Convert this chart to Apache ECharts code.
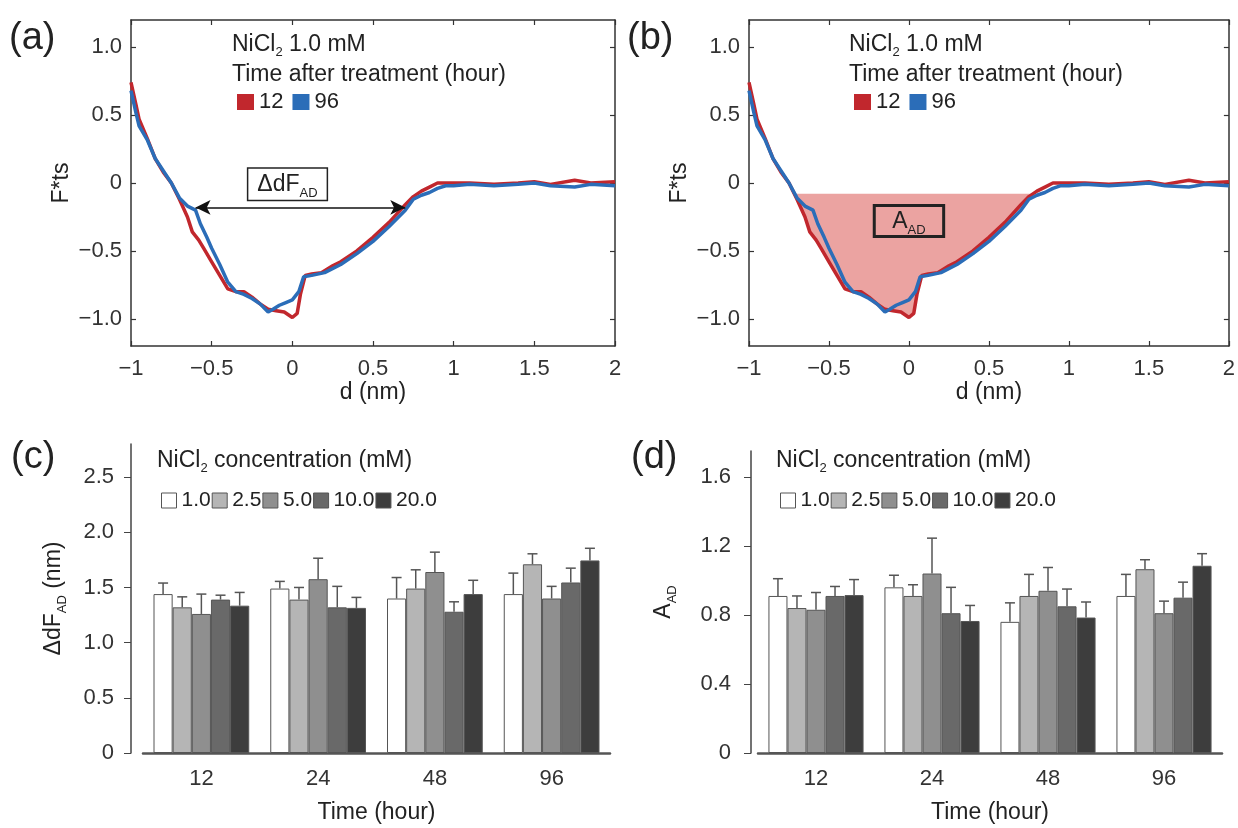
<!DOCTYPE html>
<html>
<head>
<meta charset="utf-8">
<script src="https://cdn.jsdelivr.net/npm/echarts@6/dist/echarts.min.js"></script>
<style>
html, body { margin: 0; padding: 0; background: #fff; }
#main { width: 1238px; height: 828px; }
</style>
</head>
<body>
<div id="main"></div>
<script>
// (a)(b) 力曲线: d (nm) 与 F*ts
var dist12 = [-1.00, -0.97, -0.95, -0.90, -0.85, -0.80, -0.75, -0.70, -0.65, -0.62, -0.58, -0.55, -0.50, -0.45, -0.40, -0.35, -0.30, -0.25, -0.20, -0.15, -0.10, -0.05, 0.00, 0.03, 0.05, 0.08, 0.12, 0.18, 0.25, 0.30, 0.40, 0.50, 0.60, 0.70, 0.75, 0.80, 0.85, 0.90, 1.00, 1.10, 1.25, 1.40, 1.50, 1.60, 1.75, 1.85, 2.00];
var force12 = [0.74, 0.58, 0.47, 0.33, 0.18, 0.08, 0.00, -0.12, -0.25, -0.36, -0.42, -0.48, -0.58, -0.68, -0.78, -0.80, -0.80, -0.84, -0.89, -0.93, -0.94, -0.95, -0.99, -0.96, -0.82, -0.68, -0.67, -0.66, -0.61, -0.58, -0.50, -0.40, -0.29, -0.16, -0.10, -0.06, -0.03, 0.00, 0.00, 0.00, -0.01, 0.00, 0.01, -0.01, 0.02, 0.00, 0.01];
var dist96 = [-1.00, -0.97, -0.95, -0.90, -0.85, -0.80, -0.75, -0.70, -0.65, -0.60, -0.57, -0.53, -0.50, -0.45, -0.40, -0.35, -0.30, -0.25, -0.20, -0.15, -0.12, -0.08, -0.04, 0.00, 0.04, 0.07, 0.12, 0.20, 0.30, 0.40, 0.50, 0.60, 0.70, 0.75, 0.80, 0.85, 0.90, 0.95, 1.00, 1.10, 1.25, 1.40, 1.50, 1.60, 1.75, 1.85, 2.00];
var force96 = [0.68, 0.52, 0.42, 0.32, 0.18, 0.09, 0.00, -0.11, -0.17, -0.20, -0.30, -0.40, -0.48, -0.60, -0.73, -0.80, -0.82, -0.85, -0.89, -0.95, -0.93, -0.90, -0.88, -0.86, -0.80, -0.69, -0.68, -0.66, -0.60, -0.52, -0.43, -0.32, -0.20, -0.12, -0.09, -0.07, -0.04, -0.02, -0.02, -0.01, -0.02, -0.01, 0.00, -0.02, -0.03, -0.01, -0.02];

// (b) A_AD 阴影区域
var fillTop = -0.08;
var fillDist = [-0.72, -0.70, -0.65, -0.62, -0.58, -0.55, -0.50, -0.45, -0.40, -0.35, -0.30, -0.25, -0.20, -0.15, -0.10, -0.05, 0.00, 0.03, 0.05, 0.08, 0.12, 0.18, 0.25, 0.30, 0.40, 0.50, 0.60, 0.70, 0.77];
var fillForce = [-0.08, -0.12, -0.25, -0.36, -0.42, -0.48, -0.58, -0.68, -0.78, -0.80, -0.80, -0.84, -0.89, -0.93, -0.94, -0.95, -0.99, -0.96, -0.82, -0.68, -0.67, -0.66, -0.61, -0.58, -0.50, -0.40, -0.29, -0.16, -0.08];

// 标注位置
var arrowFrom = [-0.60, -0.18];
var arrowTo = [0.70, -0.18];
var dfBoxAt = [-0.03, -0.01];
var areaBoxAt = [0.00, -0.28];

var fTicks = [-1, -0.5, 0, 0.5, 1];

// (c)(d) 柱状图
var timeCats = ['12', '24', '48', '96'];
var concNames = ['1.0', '2.5', '5.0', '10.0', '20.0'];
var concColors = ['#ffffff', '#b5b5b5', '#8f8f8f', '#696969', '#3d3d3d'];

var dfMean1 = [1.44, 1.49, 1.40, 1.44];
var dfMean2 = [1.32, 1.39, 1.49, 1.71];
var dfMean5 = [1.26, 1.575, 1.64, 1.40];
var dfMean10 = [1.39, 1.32, 1.28, 1.545];
var dfMean20 = [1.335, 1.315, 1.44, 1.745];
var dfErr1 = [0.10, 0.065, 0.19, 0.19];
var dfErr2 = [0.095, 0.11, 0.17, 0.095];
var dfErr5 = [0.18, 0.19, 0.18, 0.11];
var dfErr10 = [0.04, 0.19, 0.09, 0.13];
var dfErr20 = [0.12, 0.095, 0.125, 0.11];

var aMean1 = [0.91, 0.96, 0.76, 0.91];
var aMean2 = [0.84, 0.91, 0.91, 1.065];
var aMean5 = [0.83, 1.04, 0.94, 0.81];
var aMean10 = [0.91, 0.81, 0.85, 0.90];
var aMean20 = [0.915, 0.765, 0.785, 1.085];
var aErr1 = [0.10, 0.07, 0.11, 0.125];
var aErr2 = [0.07, 0.065, 0.125, 0.055];
var aErr5 = [0.10, 0.205, 0.135, 0.07];
var aErr10 = [0.055, 0.15, 0.10, 0.09];
var aErr20 = [0.09, 0.09, 0.09, 0.07];

var dfTicks = [0, 0.5, 1, 1.5, 2, 2.5];
var aTicks = [0, 0.4, 0.8, 1.2, 1.6];

var dfMeans = [dfMean1, dfMean2, dfMean5, dfMean10, dfMean20];
var dfErrs = [dfErr1, dfErr2, dfErr5, dfErr10, dfErr20];
var aMeans = [aMean1, aMean2, aMean5, aMean10, aMean20];
var aErrs = [aErr1, aErr2, aErr5, aErr10, aErr20];

var FONT = 'Liberation Sans, Arial, sans-serif';
var RED = '#c1272d';
var BLUE = '#2b6db8';
var barCatGap = 0.18;

var main = document.getElementById('main');
var chart = echarts.init(main);

function pairs(xs, ys) {
    return xs.map(function (x, i) { return [x, ys[i]]; });
}
function fmtF(v) {
    if (v === 0) return '0';
    return (v < 0 ? '\u2212' : '') + Math.abs(v).toFixed(1);
}
function fmtD(v) {
    return (v < 0 ? '\u2212' : '') + Math.abs(v);
}
function fmtBar(v) {
    return v === 0 ? '0' : v.toFixed(1);
}

var subRich = {
    m: { fontSize: 23, fontFamily: FONT, color: '#222', lineHeight: 30 },
    s: { fontSize: 13, fontFamily: FONT, color: '#222', lineHeight: 14, verticalAlign: 'bottom' }
};

// 力曲线坐标轴
function dAxis(gi, pos, main) {
    return {
        type: 'value', gridIndex: gi, position: pos, min: -1, max: 2, interval: 0.5,
        name: main ? 'd (nm)' : '', nameLocation: 'middle', nameGap: 35,
        nameTextStyle: { fontSize: 23, fontFamily: FONT, color: '#222' },
        axisLine: { show: true, onZero: false, lineStyle: { color: '#333', width: 1.5 } },
        axisTick: { show: true, inside: true, length: 5, lineStyle: { color: '#333', width: 1.2 } },
        axisLabel: { show: main, margin: 12, fontSize: 22, fontFamily: FONT, color: '#333', formatter: fmtD },
        splitLine: { show: false }
    };
}
function fAxis(gi, pos, main) {
    return {
        type: 'value', gridIndex: gi, position: pos, min: -1.2, max: 1.2,
        name: main ? 'F*ts' : '', nameLocation: 'middle', nameGap: 58,
        nameTextStyle: { fontSize: 23, fontFamily: FONT, color: '#222' },
        axisLine: { show: true, onZero: false, lineStyle: { color: '#333', width: 1.5 } },
        axisTick: { show: true, inside: true, length: 5, customValues: fTicks, lineStyle: { color: '#333', width: 1.2 } },
        axisLabel: { show: main, margin: 9, fontSize: 22, fontFamily: FONT, color: '#333', customValues: fTicks, formatter: fmtF },
        splitLine: { show: false }
    };
}
function catAxis(gi) {
    return {
        type: 'category', gridIndex: gi, data: timeCats,
        name: 'Time (hour)', nameLocation: 'middle', nameGap: 48,
        nameTextStyle: { fontSize: 23, fontFamily: FONT, color: '#222' },
        axisLine: { show: true, lineStyle: { color: '#555', width: 2.5 } },
        axisTick: { show: false },
        axisLabel: { margin: 15, fontSize: 22, fontFamily: FONT, color: '#333' },
        splitLine: { show: false }
    };
}
function barYAxis(gi, max, ticks, name, gap, offset, margin) {
    return {
        type: 'value', gridIndex: gi, min: 0, max: max, offset: offset,
        name: name, nameLocation: 'middle', nameGap: gap,
        nameTextStyle: { fontSize: 23, fontFamily: FONT, color: '#222', rich: subRich },
        axisLine: { show: true, lineStyle: { color: '#444', width: 1.5 } },
        axisTick: { show: true, length: 7, customValues: ticks, lineStyle: { color: '#444' } },
        axisLabel: { margin: margin, fontSize: 22, fontFamily: FONT, color: '#333', customValues: ticks, formatter: fmtBar },
        splitLine: { show: false }
    };
}

// 误差线
function renderErr(params, api) {
    var cat = api.value(0), k = api.value(1), mean = api.value(2), err = api.value(3);
    var catW = api.size([1, 0])[0];
    var groupW = catW * (1 - barCatGap);
    var barW = groupW / concNames.length;
    var base = api.coord([cat, mean]);
    var x = base[0] - groupW / 2 + (k + 0.5) * barW;
    var top = api.coord([cat, mean + err])[1];
    var st = { stroke: '#555', lineWidth: 1.5 };
    return {
        type: 'group',
        children: [
            { type: 'line', shape: { x1: x, y1: base[1], x2: x, y2: top }, style: st },
            { type: 'line', shape: { x1: x - 5, y1: top, x2: x + 5, y2: top }, style: st }
        ]
    };
}
function errData(means, errs) {
    var out = [];
    means.forEach(function (m, k) {
        m.forEach(function (v, c) { out.push([c, k, v, errs[k][c]]); });
    });
    return out;
}

var series = [];
// (a)
series.push({
    type: 'line', name: '12', xAxisIndex: 0, yAxisIndex: 0, data: pairs(dist12, force12),
    symbol: 'none', lineStyle: { color: RED, width: 3.5 }, itemStyle: { color: RED }, z: 3,
    markLine: {
        silent: true, symbol: ['arrow', 'arrow'], symbolSize: [11, 15],
        lineStyle: { color: '#111', width: 1.5, type: 'solid' }, label: { show: false },
        data: [[{ coord: arrowFrom }, { coord: arrowTo }]]
    }
});
series.push({
    type: 'line', name: '96', xAxisIndex: 0, yAxisIndex: 0, data: pairs(dist96, force96),
    symbol: 'none', lineStyle: { color: BLUE, width: 3.5 }, itemStyle: { color: BLUE }, z: 4,
    markPoint: {
        silent: true, symbol: 'rect', symbolSize: 1, itemStyle: { color: 'rgba(0,0,0,0)' },
        label: {
            show: true, position: 'inside', formatter: '{m|\u0394dF}{s|AD}',
            backgroundColor: '#fff', borderColor: '#222', borderWidth: 1.5, padding: [1, 9, 0, 9], rich: subRich
        },
        data: [{ coord: dfBoxAt }]
    }
});
// (b)
series.push({
    type: 'line', name: 'fill', xAxisIndex: 2, yAxisIndex: 2, data: pairs(fillDist, fillForce),
    symbol: 'none', lineStyle: { width: 0 }, itemStyle: { color: '#eba3a1' },
    areaStyle: { origin: fillTop, color: '#eba3a1', opacity: 1 }, z: 1, silent: true
});
series.push({
    type: 'line', name: '12', xAxisIndex: 2, yAxisIndex: 2, data: pairs(dist12, force12),
    symbol: 'none', lineStyle: { color: RED, width: 3.5 }, itemStyle: { color: RED }, z: 3
});
series.push({
    type: 'line', name: '96', xAxisIndex: 2, yAxisIndex: 2, data: pairs(dist96, force96),
    symbol: 'none', lineStyle: { color: BLUE, width: 3.5 }, itemStyle: { color: BLUE }, z: 4,
    markPoint: {
        silent: true, symbol: 'rect', symbolSize: 1, itemStyle: { color: 'rgba(0,0,0,0)' },
        label: {
            show: true, position: 'inside', formatter: '{m|A}{s|AD}',
            backgroundColor: 'rgba(0,0,0,0)', borderColor: '#222', borderWidth: 1.5, padding: [1, 18, 0, 18], rich: subRich
        },
        data: [{ coord: areaBoxAt }]
    }
});
// (c)(d)
concNames.forEach(function (name, k) {
    series.push({
        type: 'bar', name: name, xAxisIndex: 4, yAxisIndex: 4, data: dfMeans[k],
        barGap: '0%', barCategoryGap: (barCatGap * 100) + '%',
        itemStyle: { color: concColors[k], borderColor: '#555', borderWidth: 1 }
    });
});
concNames.forEach(function (name, k) {
    series.push({
        type: 'bar', name: name, xAxisIndex: 5, yAxisIndex: 5, data: aMeans[k],
        barGap: '0%', barCategoryGap: (barCatGap * 100) + '%',
        itemStyle: { color: concColors[k], borderColor: '#555', borderWidth: 1 }
    });
});
series.push({
    type: 'custom', name: 'errC', xAxisIndex: 4, yAxisIndex: 4, renderItem: renderErr,
    data: errData(dfMeans, dfErrs), encode: { x: 0, y: 2 }, z: 5, silent: true
});
series.push({
    type: 'custom', name: 'errD', xAxisIndex: 5, yAxisIndex: 5, renderItem: renderErr,
    data: errData(aMeans, aErrs), encode: { x: 0, y: 2 }, z: 5, silent: true
});

function lineLegend(left) {
    return {
        left: left, top: 86, orient: 'horizontal', icon: 'rect', itemWidth: 17, itemHeight: 16, itemGap: 9,
        selectedMode: false,
        textStyle: { fontSize: 22, fontFamily: FONT, color: '#222' },
        data: [
            { name: '12', itemStyle: { color: RED, borderWidth: 0 } },
            { name: '96', itemStyle: { color: BLUE, borderWidth: 0 } }
        ]
    };
}
function barLegend(left) {
    return {
        left: left, top: 485, orient: 'horizontal', icon: 'rect', itemWidth: 15, itemHeight: 15, itemGap: 1,
        selectedMode: false,
        textStyle: { fontSize: 21, fontFamily: FONT, color: '#222' },
        data: concNames.map(function (n, k) {
            return { name: n, itemStyle: { color: concColors[k], borderColor: '#555', borderWidth: 1 } };
        })
    };
}

var nicl = {
    n: { fontSize: 23, fontFamily: FONT, fill: '#222', lineHeight: 28 },
    s: { fontSize: 13, fontFamily: FONT, fill: '#222', lineHeight: 14, verticalAlign: 'bottom' }
};
function txt(left, top, text, size) {
    return { type: 'text', left: left, top: top, style: { text: text, fontSize: size, fontFamily: FONT, fill: '#222' } };
}
function richTxt(left, top, text) {
    return { type: 'text', left: left, top: top, style: { text: text, rich: nicl, fontSize: 23, fontFamily: FONT, fill: '#222' } };
}

var option = {
    animation: false,
    backgroundColor: '#fff',
    grid: [
        { left: 131, top: 20, width: 484, height: 326 },
        { left: 749, top: 20, width: 480, height: 326 },
        { left: 143, top: 444, width: 467, height: 309 },
        { left: 758, top: 451, width: 464, height: 302 }
    ],
    xAxis: [
        dAxis(0, 'bottom', true), dAxis(0, 'top', false),
        dAxis(1, 'bottom', true), dAxis(1, 'top', false),
        catAxis(2), catAxis(3)
    ],
    yAxis: [
        fAxis(0, 'left', true), fAxis(0, 'right', false),
        fAxis(1, 'left', true), fAxis(1, 'right', false),
        barYAxis(2, 2.8, dfTicks, '{m|\u0394dF}{s|AD}{m| (nm)}', 62, 12, 17),
        barYAxis(3, 1.75, aTicks, '{m|A}{s|AD}', 72, 7, 20)
    ],
    legend: [lineLegend(232), lineLegend(849), barLegend(156), barLegend(775)],
    graphic: [
        txt(9, 20, '(a)', 38), txt(627, 20, '(b)', 38),
        txt(11, 439, '(c)', 38), txt(631, 439, '(d)', 38),
        richTxt(232, 33, '{n|NiCl}{s|2}{n| 1.0 mM}'),
        txt(232, 63, 'Time after treatment (hour)', 23),
        richTxt(849, 33, '{n|NiCl}{s|2}{n| 1.0 mM}'),
        txt(849, 63, 'Time after treatment (hour)', 23),
        richTxt(157, 449, '{n|NiCl}{s|2}{n| concentration (mM)}'),
        richTxt(776, 449, '{n|NiCl}{s|2}{n| concentration (mM)}')
    ],
    series: series
};

chart.setOption(option);
</script>
</body>
</html>
